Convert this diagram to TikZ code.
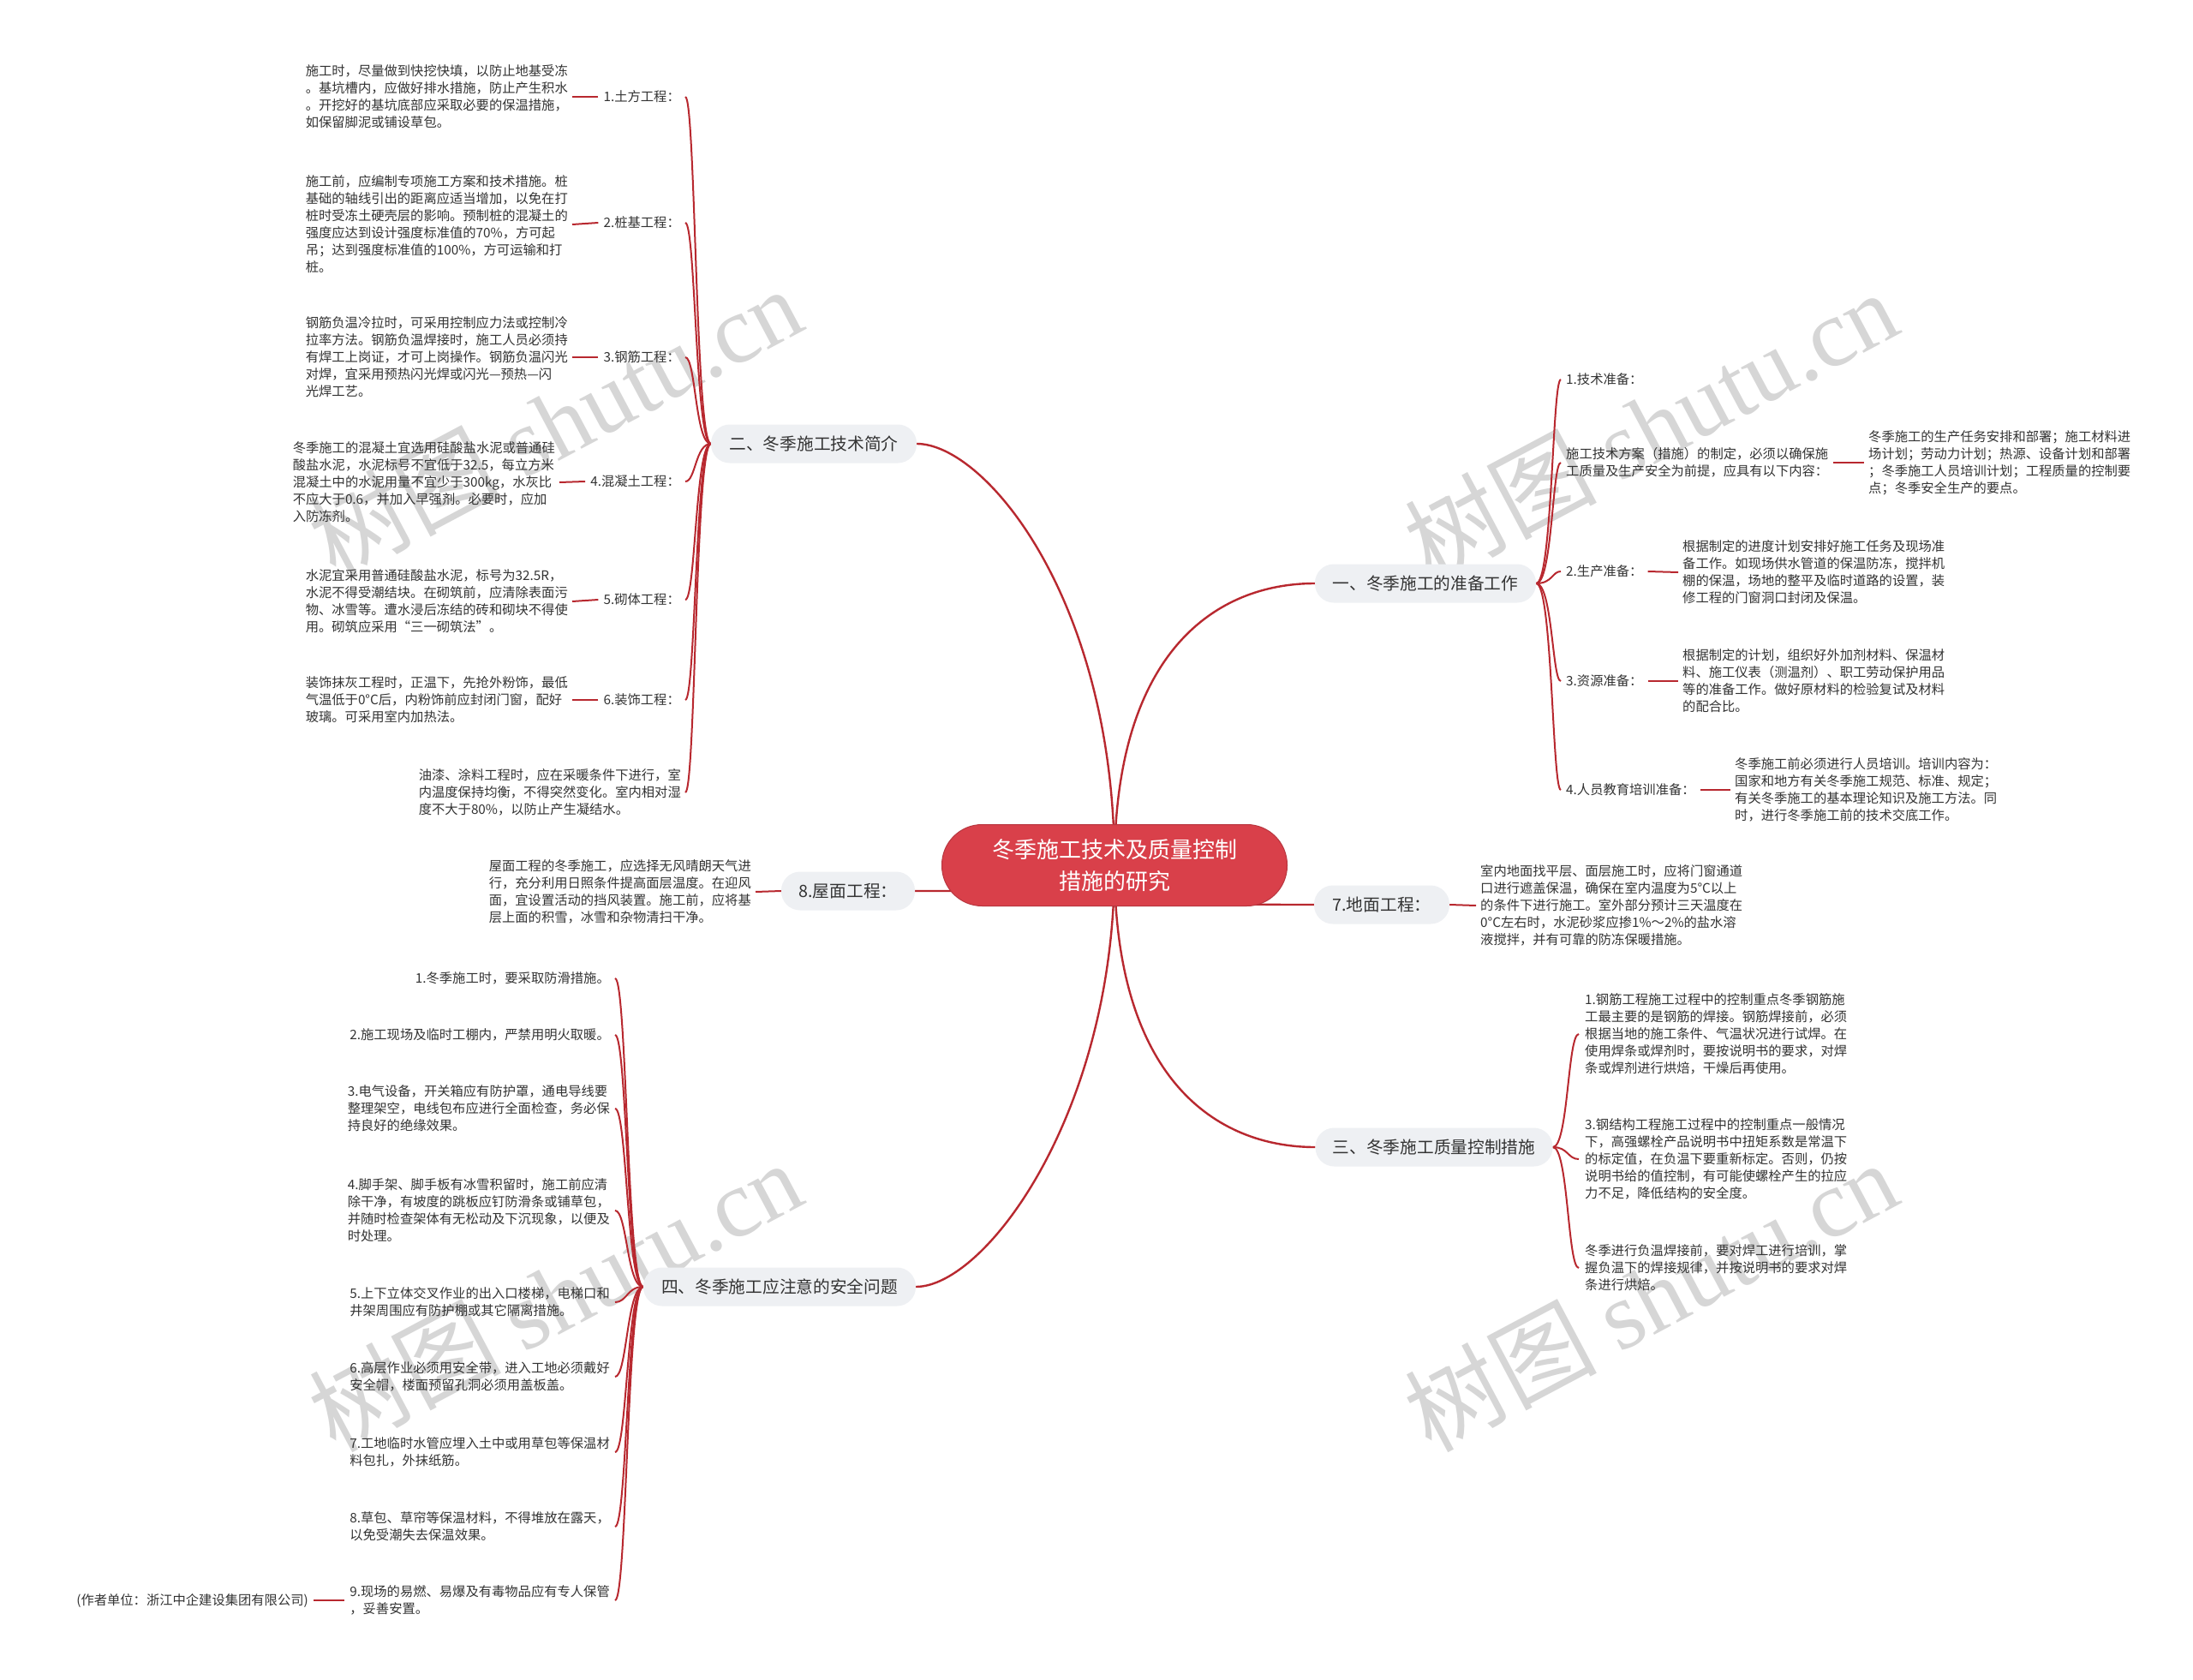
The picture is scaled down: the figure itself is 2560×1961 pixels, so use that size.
\documentclass[tikz,border=0pt]{standalone}
\usepackage{fontspec}
\setmainfont{Noto Sans CJK SC}
\newfontfamily\wmserif{Liberation Serif}
\usetikzlibrary{backgrounds}
\definecolor{linered}{HTML}{B8282F}
\definecolor{rootred}{HTML}{D9404A}
\definecolor{pill}{HTML}{EEF0F3}
\definecolor{txt}{HTML}{333333}
\definecolor{wm}{HTML}{D6D6D6}
\begin{document}
\begin{tikzpicture}[x=1pt,y=-1pt,
 desc/.style={font=\fontsize{15.3}{20}\selectfont, align=left, inner xsep=5pt, inner ysep=2pt, text=txt},
 lbl/.style={font=\fontsize{15.3}{20}\selectfont, inner xsep=6pt, inner ysep=2pt, text=txt},
 topic/.style={fill=pill, rounded corners=22pt, minimum height=45pt, inner xsep=0pt, font=\fontsize{19.7}{24}\selectfont, text=txt},
 rootnode/.style={fill=rootred, draw=rootred!85!black, line width=1pt, rounded corners=47pt, minimum width=403pt, minimum height=95pt, text=white, align=center, font=\fontsize{26}{37}\selectfont},
 main/.style={draw=linered, line width=2.4pt},
 br/.style={draw=linered, line width=2pt},
 wmark/.style={text=wm, rotate=28, font=\fontsize{112}{112}\selectfont}
]
\useasboundingbox (0,0) rectangle (2560,1961);

% root and topics
\node[rootnode] (root) at (1301,1010) {冬季施工技术及质量控制\\措施的研究};
\node[topic, minimum width=240pt] (b2) at (950,518) {二、冬季施工技术简介};
\node[topic, minimum width=258pt] (b1) at (1664,681) {一、冬季施工的准备工作};
\node[topic, minimum width=158pt] (b7) at (1613,1056) {7.地面工程：};
\node[topic, minimum width=156pt] (b8) at (990,1040) {8.屋面工程：};
\node[topic, minimum width=277pt] (b3) at (1674,1339) {三、冬季施工质量控制措施};
\node[topic, minimum width=318pt] (b4) at (910,1502) {四、冬季施工应注意的安全问题};

% branch 二
\node[lbl, anchor=east] (l21) at (800,113) {1.土方工程：};
\node[lbl, anchor=east] (l22) at (800,260) {2.桩基工程：};
\node[lbl, anchor=east] (l23) at (800,417) {3.钢筋工程：};
\node[lbl, anchor=east] (l24) at (800,562) {4.混凝土工程：};
\node[lbl, anchor=east] (l25) at (800,700) {5.砌体工程：};
\node[lbl, anchor=east] (l26) at (800,817) {6.装饰工程：};
\node[desc, anchor=east] (t27) at (800,925) {油漆、涂料工程时，应在采暖条件下进行，室\\内温度保持均衡，不得突然变化。室内相对湿\\度不大于80\%，以防止产生凝结水。};

\node[desc, anchor=east] (t21) at (668,113) {施工时，尽量做到快挖快填，以防止地基受冻\\。基坑槽内，应做好排水措施，防止产生积水\\。开挖好的基坑底部应采取必要的保温措施，\\如保留脚泥或铺设草包。};
\node[desc, anchor=east] (t22) at (668,262) {施工前，应编制专项施工方案和技术措施。桩\\基础的轴线引出的距离应适当增加，以免在打\\桩时受冻土硬壳层的影响。预制桩的混凝土的\\强度应达到设计强度标准值的70\%，方可起\\吊；达到强度标准值的100\%，方可运输和打\\桩。};
\node[desc, anchor=east] (t23) at (668,417) {钢筋负温冷拉时，可采用控制应力法或控制冷\\拉率方法。钢筋负温焊接时，施工人员必须持\\有焊工上岗证，才可上岗操作。钢筋负温闪光\\对焊，宜采用预热闪光焊或闪光—预热—闪\\光焊工艺。};
\node[desc, anchor=east] (t24) at (653,563) {冬季施工的混凝土宜选用硅酸盐水泥或普通硅\\酸盐水泥，水泥标号不宜低于32.5，每立方米\\混凝土中的水泥用量不宜少于300kg，水灰比\\不应大于0.6，并加入早强剂。必要时，应加\\入防冻剂。};
\node[desc, anchor=east] (t25) at (668,702) {水泥宜采用普通硅酸盐水泥，标号为32.5R，\\水泥不得受潮结块。在砌筑前，应清除表面污\\物、冰雪等。遭水浸后冻结的砖和砌块不得使\\用。砌筑应采用“三一砌筑法”。};
\node[desc, anchor=east] (t26) at (668,817) {装饰抹灰工程时，正温下，先抢外粉饰，最低\\气温低于0°C后，内粉饰前应封闭门窗，配好\\玻璃。可采用室内加热法。};

% 8
\node[desc, anchor=east] (t8) at (882,1041) {屋面工程的冬季施工，应选择无风晴朗天气进\\行，充分利用日照条件提高面层温度。在迎风\\面，宜设置活动的挡风装置。施工前，应将基\\层上面的积雪，冰雪和杂物清扫干净。};

% branch 一
\node[lbl, anchor=west] (r11) at (1822,443) {1.技术准备：};
\node[desc, anchor=west, inner xsep=6pt] (r12) at (1822,540) {施工技术方案（措施）的制定，必须以确保施\\工质量及生产安全为前提，应具有以下内容：};
\node[desc, anchor=west] (r12c) at (2176,540) {冬季施工的生产任务安排和部署；施工材料进\\场计划；劳动力计划；热源、设备计划和部署\\；冬季施工人员培训计划；工程质量的控制要\\点；冬季安全生产的要点。};
\node[lbl, anchor=west] (r13) at (1822,667) {2.生产准备：};
\node[desc, anchor=west] (r13c) at (1959,668) {根据制定的进度计划安排好施工任务及现场准\\备工作。如现场供水管道的保温防冻，搅拌机\\棚的保温，场地的整平及临时道路的设置，装\\修工程的门窗洞口封闭及保温。};
\node[lbl, anchor=west] (r14) at (1822,795) {3.资源准备：};
\node[desc, anchor=west] (r14c) at (1959,795) {根据制定的计划，组织好外加剂材料、保温材\\料、施工仪表（测温剂）、职工劳动保护用品\\等的准备工作。做好原材料的检验复试及材料\\的配合比。};
\node[lbl, anchor=west] (r15) at (1822,922) {4.人员教育培训准备：};
\node[desc, anchor=west] (r15c) at (2020,922) {冬季施工前必须进行人员培训。培训内容为：\\国家和地方有关冬季施工规范、标准、规定；\\有关冬季施工的基本理论知识及施工方法。同\\时，进行冬季施工前的技术交底工作。};

% 7
\node[desc, anchor=west] (t7) at (1723,1057) {室内地面找平层、面层施工时，应将门窗通道\\口进行遮盖保温，确保在室内温度为5°C以上\\的条件下进行施工。室外部分预计三天温度在\\0°C左右时，水泥砂浆应掺1\%～2\%的盐水溶\\液搅拌，并有可靠的防冻保暖措施。};

% branch 三
\node[desc, anchor=west, inner xsep=7pt] (r31) at (1843,1207) {1.钢筋工程施工过程中的控制重点冬季钢筋施\\工最主要的是钢筋的焊接。钢筋焊接前，必须\\根据当地的施工条件、气温状况进行试焊。在\\使用焊条或焊剂时，要按说明书的要求，对焊\\条或焊剂进行烘焙，干燥后再使用。};
\node[desc, anchor=west, inner xsep=7pt] (r32) at (1843,1353) {3.钢结构工程施工过程中的控制重点一般情况\\下，高强螺栓产品说明书中扭矩系数是常温下\\的标定值，在负温下要重新标定。否则，仍按\\说明书给的值控制，有可能使螺栓产生的拉应\\力不足，降低结构的安全度。};
\node[desc, anchor=west, inner xsep=7pt] (r33) at (1843,1480) {冬季进行负温焊接前，要对焊工进行培训，掌\\握负温下的焊接规律，并按说明书的要求对焊\\条进行烘焙。};

% branch 四
\node[desc, anchor=east, inner xsep=6pt] (s1) at (718,1142) {1.冬季施工时，要采取防滑措施。};
\node[desc, anchor=east, inner xsep=6pt] (s2) at (718,1208) {2.施工现场及临时工棚内，严禁用明火取暖。};
\node[desc, anchor=east, inner xsep=6pt] (s3) at (718,1294) {3.电气设备，开关箱应有防护罩，通电导线要\\整理架空，电线包布应进行全面检查，务必保\\持良好的绝缘效果。};
\node[desc, anchor=east, inner xsep=6pt] (s4) at (718,1413) {4.脚手架、脚手板有冰雪积留时，施工前应清\\除干净，有坡度的跳板应钉防滑条或铺草包，\\并随时检查架体有无松动及下沉现象，以便及\\时处理。};
\node[desc, anchor=east, inner xsep=6pt] (s5) at (718,1520) {5.上下立体交叉作业的出入口楼梯，电梯口和\\井架周围应有防护棚或其它隔离措施。};
\node[desc, anchor=east, inner xsep=6pt] (s6) at (718,1607) {6.高层作业必须用安全带，进入工地必须戴好\\安全帽，楼面预留孔洞必须用盖板盖。};
\node[desc, anchor=east, inner xsep=6pt] (s7) at (718,1695) {7.工地临时水管应埋入土中或用草包等保温材\\料包扎，外抹纸筋。};
\node[desc, anchor=east, inner xsep=6pt] (s8) at (718,1782) {8.草包、草帘等保温材料，不得堆放在露天，\\以免受潮失去保温效果。};
\node[desc, anchor=east, inner xsep=6pt] (s9) at (718,1868) {9.现场的易燃、易爆及有毒物品应有专人保管\\，妥善安置。};
\node[desc, anchor=east, inner xsep=6pt] (s9c) at (366,1868) {(作者单位：浙江中企建设集团有限公司)};

\begin{pgfonlayer}{background}
\fill[white] (0,0) rectangle (2560,1961);
% watermarks
\foreach \wx/\wy/\wn in {648/492/w1, 1927/496/w2, 648/1512/w3, 1927/1512/w4}
  \node[wmark] (\wn) at (\wx,\wy) {树图 {\wmserif shutu.cn}};
% root connectors
\draw[main] (root.center) .. controls (1301,700) and (1150,518) .. (b2.east);
\draw[main] (root.center) .. controls (1301,760) and (1420,681) .. (b1.west);
\draw[main] (root.center) .. controls (1301,1260) and (1420,1339) .. (b3.west);
\draw[main] (root.center) .. controls (1301,1300) and (1150,1502) .. (b4.east);
\draw[main] (root.center) .. controls (1200,1040) .. (b8.east);
\draw[main] (root.center) .. controls (1400,1056) .. (b7.west);
% branch 二 bracket
\foreach \c in {l21,l22,l23,l24,l25,l26,t27}
  \draw[br] (b2.west) .. controls +(-18,0) and +(12,0) .. (\c.east);
\foreach \a/\b in {l21/t21,l22/t22,l23/t23,l24/t24,l25/t25,l26/t26}
  \draw[br] (\a.west) -- (\b.east);
\draw[br] (b8.west) -- (t8.east);
% branch 一 bracket
\foreach \c in {r11,r12,r13,r14,r15}
  \draw[br] (b1.east) .. controls +(19,0) and +(-10,0) .. (\c.west);
\foreach \a/\b in {r12/r12c,r13/r13c,r14/r14c,r15/r15c}
  \draw[br] (\a.east) -- (\b.west);
\draw[br] (b7.east) -- (t7.west);
% branch 三
\foreach \c in {r31,r32,r33}
  \draw[br] (b3.east) .. controls +(18,0) and +(-13,0) .. (\c.west);
% branch 四
\foreach \c in {s1,s2,s3,s4,s5,s6,s7,s8,s9}
  \draw[br] (b4.west) .. controls +(-19,0) and +(14,0) .. (\c.east);
\draw[br] (s9.west) -- (s9c.east);
\end{pgfonlayer}
\end{tikzpicture}
\end{document}
